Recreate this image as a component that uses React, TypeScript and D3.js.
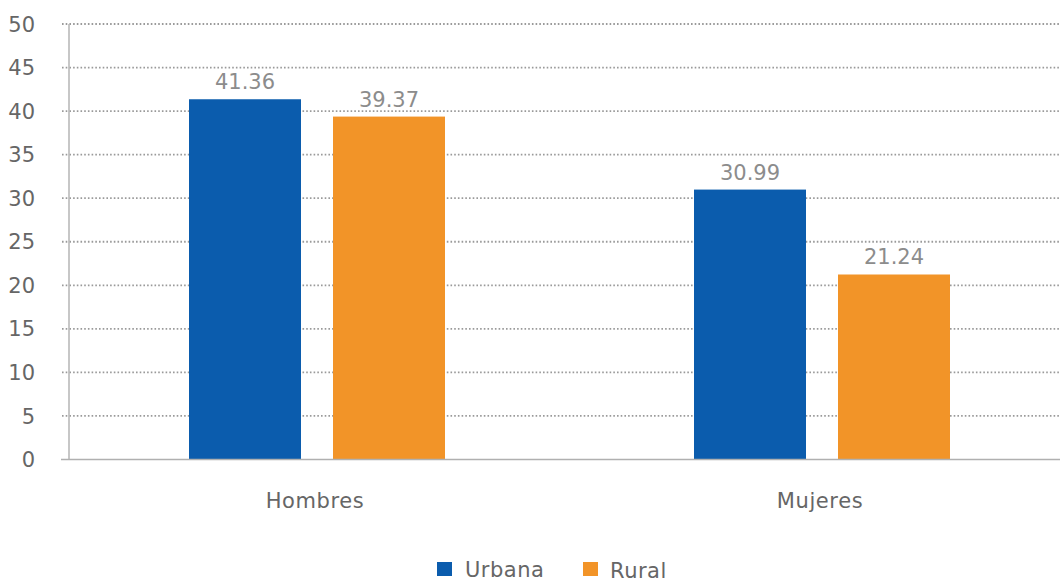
import React from "react";
import * as d3 from "d3";

const categories = ["Hombres", "Mujeres"];
const seriesNames = ["Urbana", "Rural"];
const urbanaValues = [41.36, 30.99];
const ruralValues = [39.37, 21.24];
const yTicks = [0, 5, 10, 15, 20, 25, 30, 35, 40, 45, 50];
const colors = ["#0B5CAD", "#F29428"];

const W = 1060;
const H = 583;
const FONT = "'DejaVu Sans', sans-serif";

export default function App() {
  const y = d3.scaleLinear().domain([0, 50]).range([459.5, 24]);
  const x0 = d3.scaleBand<string>().domain(categories).range([64.5, 1074.5]).paddingInner(0).paddingOuter(0);
  const x1 = d3
    .scaleBand<string>()
    .domain(seriesNames)
    .range([0, x0.bandwidth()])
    .paddingInner(0.2222)
    .paddingOuter(0.8646);
  const values = [urbanaValues, ruralValues];

  return (
    <svg width={W} height={H} style={{ position: "absolute", left: 0, top: 0 }}>
      <rect width={W} height={H} fill="#fff" />
      {yTicks.map((t) =>
        t === 0 ? null : (
          <line
            key={"g" + t}
            x1={62}
            x2={W}
            y1={y(t)}
            y2={y(t)}
            stroke="#9a9a9a"
            strokeWidth={1.8}
            strokeDasharray="1.6 2.1"
          />
        )
      )}
      <line x1={69} x2={69} y1={y(50)} y2={y(0)} stroke="#b5b5b5" strokeWidth={1.5} />
      {yTicks.map((t) => (
        <text
          key={"t" + t}
          x={35}
          y={y(t)}
          dy="0.36em"
          textAnchor="end"
          fontFamily={FONT}
          fontSize={21}
          fill="#666"
        >
          {t}
        </text>
      ))}
      {categories.map((c, ci) =>
        seriesNames.map((s, si) => {
          const v = values[si][ci];
          const bx = (x0(c) as number) + (x1(s) as number);
          return (
            <g key={c + s}>
              <rect x={bx} y={y(v)} width={x1.bandwidth()} height={y(0) - y(v)} fill={colors[si]} />
              <text
                x={bx + x1.bandwidth() / 2}
                y={y(v) - 10}
                textAnchor="middle"
                fontFamily={FONT}
                fontSize={21}
                fill="#8c8c8c"
              >
                {v.toFixed(2)}
              </text>
            </g>
          );
        })
      )}
      <line x1={61} x2={W} y1={y(0)} y2={y(0)} stroke="#b0b0b0" strokeWidth={1.5} />
      {categories.map((c) => (
        <text
          key={"c" + c}
          x={(x0(c) as number) + x0.bandwidth() / 2 - 2}
          y={508}
          textAnchor="middle"
          fontFamily={FONT}
          fontSize={21}
          letterSpacing={0.6}
          fill="#666"
        >
          {c}
        </text>
      ))}
      {seriesNames.map((s, i) => (
        <g key={"l" + s}>
          <rect x={437 + i * 146} y={562} width={15} height={14} fill={colors[i]} />
          <text x={465 + i * 145} y={577 + i} fontFamily={FONT} fontSize={21} letterSpacing={0.5} fill="#666">
            {s}
          </text>
        </g>
      ))}
    </svg>
  );
}
